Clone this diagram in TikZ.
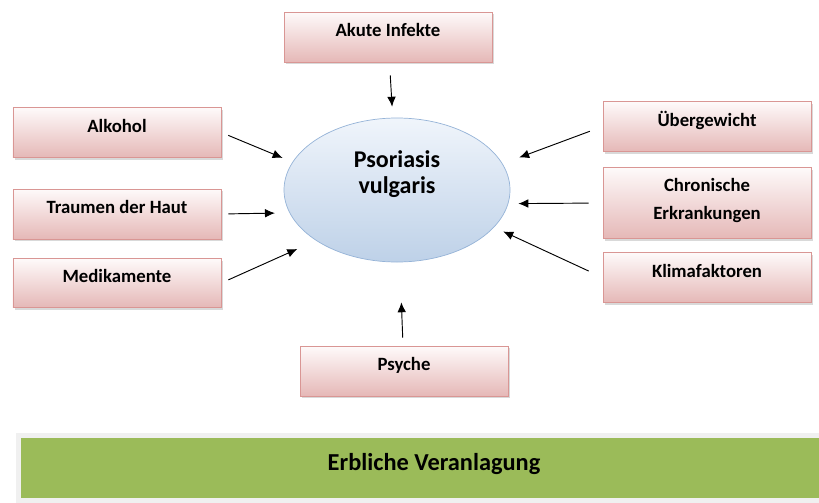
\documentclass[tikz,border=0pt]{standalone}
\usepackage{fontspec}
\setmainfont{Carlito}
\usetikzlibrary{shapes.geometric,shadows,arrows.meta}
\definecolor{boxline}{RGB}{217,150,148}
\definecolor{boxtop}{RGB}{254,250,250}
\definecolor{boxbottom}{RGB}{229,184,183}
\definecolor{elline}{RGB}{149,179,215}
\definecolor{eltop}{RGB}{240,245,251}
\definecolor{elbottom}{RGB}{190,209,232}
\definecolor{erbgreen}{RGB}{155,187,89}
\definecolor{erbframe}{RGB}{240,240,240}
\begin{document}
\begin{tikzpicture}[
		x=0.03cm, y=-0.03cm,
		factor/.style={rectangle, draw=boxline, line width=0.6pt, top color=boxtop, bottom color=boxbottom,
			minimum width=6.24cm, minimum height=1.5cm, inner sep=0pt,
			drop shadow={shadow xshift=0.06cm, shadow yshift=-0.07cm, opacity=0.3},
			font=\bfseries\fontsize{16}{19}\selectfont, text height=0cm, text depth=0.02cm},
		disease/.style={ellipse, draw=elline, line width=0.6pt, top color=eltop, bottom color=elbottom,
			minimum width=6.78cm, minimum height=4.32cm, inner sep=0pt,
			font=\bfseries\fontsize{20.5}{24}\selectfont, text height=0cm, text depth=0.54cm},
		erbbar/.style={rectangle, draw=erbframe, line width=0.15cm, fill=erbgreen,
			minimum width=24.9cm, minimum height=1.95cm, inner sep=0pt,
			font=\bfseries\fontsize{20.8}{24}\selectfont, text height=0.12cm, text depth=0cm},
		arr/.style={-{Latex[length=0.3cm,width=0.26cm]}, line width=0.8pt}
		]
		\useasboundingbox (0,0) rectangle (819,502);
		% Disease in the middle
		\node[disease] (pso) at (397,190) {\begin{tabular}{@{}c@{}}Psoriasis\\[-2pt]vulgaris\end{tabular}};
		% Trigger factors, left
		\node[factor] (alk) at (117,132.5) {Alkohol};
		\node[factor] (trau) at (117,214) {Traumen der Haut};
		\node[factor, minimum height=1.47cm] (med) at (117,283) {Medikamente};
		% Trigger factors, top and bottom
		\node[factor] (inf) at (388,37) {Akute Infekte};
		\node[factor] (psy) at (404,371) {Psyche};
		% Trigger factors, right
		\node[factor] (ueb) at (707,126.5) {Übergewicht};
		\node[factor, minimum height=2.13cm, text height=0.21cm, text depth=0cm] (chr) at (707,203) {\begin{tabular}{@{}c@{}}Chronische\\[5pt]Erkrankungen\end{tabular}};
		\node[factor] (kli) at (707,277.5) {Klimafaktoren};
		% Hereditary basis
		\node[erbbar] (erb) at (434,468) {Erbliche Veranlagung};
		% Arrows
		\draw[arr, shorten <=0.39cm, shorten >=0.33cm] (inf) -- (pso);
		\draw[arr, shorten <=0.24cm, shorten >=1.2cm] (psy) -- (pso);
		\draw[arr, shorten <=0.225cm, shorten >=0.32cm] (alk.east) -- (pso.165);
		\draw[arr, shorten <=0.21cm, shorten >=0.435cm] (trau.east) -- (pso.192.7);
		\draw[arr, shorten <=0.23cm, shorten >=0.615cm] (med.east) -- (pso.212.2);
		\draw[arr, shorten <=0.41cm, shorten >=0.53cm] (ueb.west) -- (pso.14.9);
		\draw[arr, shorten <=0.42cm, shorten >=0.3cm] (chr.west) -- (pso.353.3);
		\draw[arr, shorten <=0.46cm, shorten >=0.3cm] (kli.west) -- (pso.339.2);
	\end{tikzpicture}
\end{document}
